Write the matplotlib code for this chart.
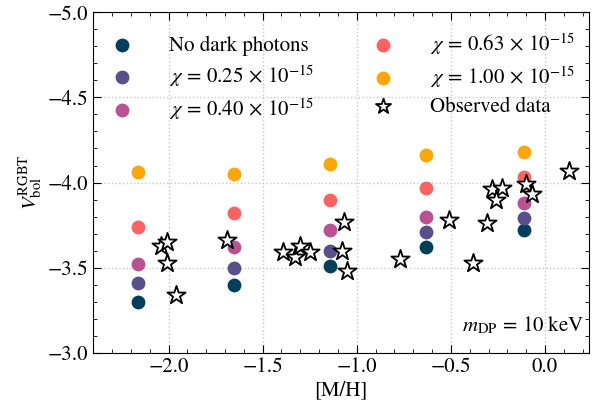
import numpy as np
import matplotlib
matplotlib.use("Agg")
import matplotlib.pyplot as plt

plt.rcParams['font.family'] = 'serif'
plt.rcParams['font.serif'] = ['STIXGeneral', 'Liberation Serif', 'DejaVu Serif']
plt.rcParams['mathtext.fontset'] = 'stix'

# model metallicities and V_bol for each kinetic-mixing value
mh_model = [-2.16, -1.65, -1.14, -0.63, -0.11]
v_none = [-3.30, -3.40, -3.51, -3.62, -3.72]
v_025 = [-3.41, -3.50, -3.60, -3.71, -3.79]
v_040 = [-3.52, -3.62, -3.72, -3.80, -3.88]
v_063 = [-3.74, -3.82, -3.90, -3.97, -4.03]
v_100 = [-4.06, -4.05, -4.11, -4.16, -4.18]

# observed clusters
mh_obs = [-2.04, -2.01, -2.01, -1.96, -1.69, -1.39, -1.33, -1.30, -1.25,
          -1.07, -1.08, -1.05, -0.77, -0.51, -0.38, -0.31, -0.28, -0.23,
          -0.26, -0.10, -0.07, 0.13]
v_obs = [-3.63, -3.65, -3.53, -3.34, -3.66, -3.59, -3.56, -3.63, -3.59,
         -3.77, -3.60, -3.48, -3.55, -3.78, -3.53, -3.76, -3.96, -3.97,
         -3.90, -3.99, -3.93, -4.07]

labels = ["No dark photons",
          r"$\chi\,=\,0.25\,\times\,10^{-15}$",
          r"$\chi\,=\,0.40\,\times\,10^{-15}$",
          r"$\chi\,=\,0.63\,\times\,10^{-15}$",
          r"$\chi\,=\,1.00\,\times\,10^{-15}$"]
colors = ['#003f5c', '#58508d', '#bc5090', '#ff6361', '#ffa600']

fig, ax = plt.subplots(figsize=(5.94, 4.07), dpi=100)
for v, lab, c in zip([v_none, v_025, v_040, v_063, v_100], labels, colors):
    ax.scatter(mh_model, v, s=80, color=c, label=lab, zorder=3)
ax.scatter(mh_obs, v_obs, s=190, marker='*', facecolor='white',
           edgecolor='black', linewidth=1.3, label="Observed data", zorder=4)

ax.set_xlim(-2.4, 0.235)
ax.set_ylim(-3.0, -5.0)
ax.set_xticks([-2.0, -1.5, -1.0, -0.5, 0.0])
ax.set_yticks([-5.0, -4.5, -4.0, -3.5, -3.0])
ax.xaxis.set_minor_locator(matplotlib.ticker.MultipleLocator(0.1))
ax.yaxis.set_minor_locator(matplotlib.ticker.MultipleLocator(0.1))
ax.tick_params(which='both', direction='in', top=True, right=True, labelsize=15)
ax.tick_params(which='major', length=6)
ax.tick_params(which='minor', length=3)
ax.grid(True, which='major', linestyle=':', color='#c8c8c8', linewidth=1.0)

ax.set_xlabel("[M/H]", fontsize=15, labelpad=2)
ax.set_ylabel(r"$V_{\rm bol}^{\rm RGBT}$", fontsize=15, labelpad=2)
ax.text(0.99, 0.08, r"$m_{\rm DP}\,=\,10\ {\rm keV}$", transform=ax.transAxes,
        ha='right', va='center', fontsize=15)

leg = ax.legend(ncol=2, loc='upper left', frameon=False, fontsize=15,
                handlelength=1.0, handletextpad=1.75, columnspacing=2.8,
                borderaxespad=0.5, labelspacing=0.35)
leg.legend_handles[-1].set_sizes([130])

fig.subplots_adjust(left=0.157, right=0.992, top=0.97, bottom=0.133)
fig.savefig("out.png", dpi=100)
